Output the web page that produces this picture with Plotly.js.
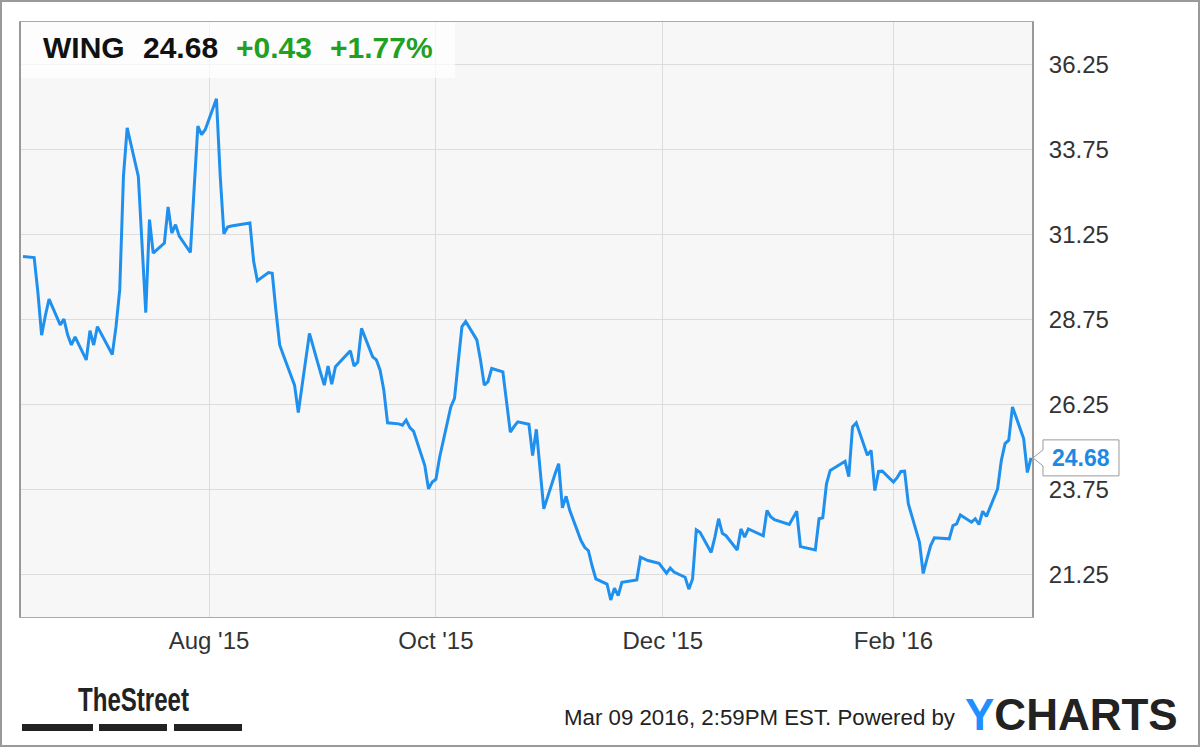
<!DOCTYPE html>
<html><head><meta charset="utf-8">
<script src="https://cdn.plot.ly/plotly-3.0.1.min.js"></script>
<style>html,body{margin:0;padding:0;background:#fff}#chart{width:1200px;height:747px}</style>
</head><body><div id="chart"></div>
<script>
const ticker = "WING";
const lastPrice = 24.68;
const change = "+0.43";
const changePct = "+1.77%";
const stamp = "Mar 09 2016, 2:59PM EST. Powered by";

const dates = [
"2015-06-12","2015-06-15","2015-06-16","2015-06-17","2015-06-18","2015-06-19",
"2015-06-22","2015-06-23","2015-06-24","2015-06-25","2015-06-26",
"2015-06-29","2015-06-30","2015-07-01","2015-07-02",
"2015-07-06","2015-07-07","2015-07-08","2015-07-09","2015-07-10",
"2015-07-13","2015-07-14","2015-07-15","2015-07-16","2015-07-17",
"2015-07-20","2015-07-21","2015-07-22","2015-07-23","2015-07-24",
"2015-07-27","2015-07-28","2015-07-29","2015-07-30","2015-07-31",
"2015-08-03","2015-08-04","2015-08-05","2015-08-06","2015-08-07",
"2015-08-10","2015-08-11","2015-08-12","2015-08-13","2015-08-14",
"2015-08-17","2015-08-18","2015-08-19","2015-08-20","2015-08-21",
"2015-08-24","2015-08-25","2015-08-26","2015-08-27","2015-08-28",
"2015-08-31","2015-09-01","2015-09-02","2015-09-03","2015-09-04",
"2015-09-08","2015-09-09","2015-09-10","2015-09-11",
"2015-09-14","2015-09-15","2015-09-16","2015-09-17","2015-09-18",
"2015-09-21","2015-09-22","2015-09-23","2015-09-24","2015-09-25",
"2015-09-28","2015-09-29","2015-09-30","2015-10-01","2015-10-02",
"2015-10-05","2015-10-06","2015-10-07","2015-10-08","2015-10-09",
"2015-10-12","2015-10-13","2015-10-14","2015-10-15","2015-10-16",
"2015-10-19","2015-10-20","2015-10-21","2015-10-22","2015-10-23",
"2015-10-26","2015-10-27","2015-10-28","2015-10-29","2015-10-30",
"2015-11-02","2015-11-03","2015-11-04","2015-11-05","2015-11-06",
"2015-11-09","2015-11-10","2015-11-11","2015-11-12","2015-11-13",
"2015-11-16","2015-11-17","2015-11-18","2015-11-19","2015-11-20",
"2015-11-23","2015-11-24","2015-11-25","2015-11-27",
"2015-11-30","2015-12-01","2015-12-02","2015-12-03","2015-12-04",
"2015-12-07","2015-12-08","2015-12-09","2015-12-10","2015-12-11",
"2015-12-14","2015-12-15","2015-12-16","2015-12-17","2015-12-18",
"2015-12-21","2015-12-22","2015-12-23","2015-12-24",
"2015-12-28","2015-12-29","2015-12-30","2015-12-31",
"2016-01-04","2016-01-05","2016-01-06","2016-01-07","2016-01-08",
"2016-01-11","2016-01-12","2016-01-13","2016-01-14","2016-01-15",
"2016-01-19","2016-01-20","2016-01-21","2016-01-22",
"2016-01-25","2016-01-26","2016-01-27","2016-01-28","2016-01-29",
"2016-02-01","2016-02-02","2016-02-03","2016-02-04","2016-02-05",
"2016-02-08","2016-02-09","2016-02-10","2016-02-11","2016-02-12",
"2016-02-16","2016-02-17","2016-02-18","2016-02-19",
"2016-02-22","2016-02-23","2016-02-24","2016-02-25","2016-02-26",
"2016-02-29","2016-03-01","2016-03-02","2016-03-03","2016-03-04",
"2016-03-07","2016-03-08","2016-03-09"
];

const closes = [
30.60,30.57,29.55,28.29,28.86,29.35,
28.59,28.76,28.30,28.00,28.24,
27.56,28.42,28.00,28.54,
27.72,28.54,29.62,32.96,34.39,
32.96,31.00,28.95,31.69,30.70,
31.00,32.06,31.29,31.54,31.20,
30.72,32.60,34.44,34.19,34.34,
35.24,33.00,31.27,31.47,31.50,
31.55,31.57,31.59,30.46,29.89,
30.13,30.11,29.00,28.00,27.70,
26.82,26.01,26.77,27.55,28.34,
27.18,26.82,27.38,26.85,27.36,
27.83,27.38,27.50,28.49,
27.65,27.56,27.26,26.67,25.71,
25.68,25.64,25.79,25.57,25.46,
24.46,23.77,23.97,24.05,24.70,
26.18,26.43,27.50,28.54,28.69,
28.15,27.55,26.82,26.92,27.31,
27.21,26.40,25.44,25.60,25.74,
25.67,24.75,25.52,24.35,23.18,
24.20,24.51,23.21,23.55,23.13,
22.25,22.05,21.95,21.50,21.12,
20.97,20.50,20.85,20.63,21.02,
21.08,21.09,21.76,21.66,
21.58,21.43,21.29,21.44,21.32,
21.17,20.82,21.12,22.56,22.49,
21.90,22.35,22.89,22.46,22.39,
21.97,22.59,22.35,22.59,
22.39,23.13,22.95,22.86,
22.72,22.90,23.11,22.07,22.04,
21.97,22.89,22.92,23.92,24.31,
24.58,24.13,25.59,25.71,
24.76,24.90,23.72,24.28,24.29,
23.97,24.10,24.28,24.29,23.33,
22.20,21.28,21.70,22.10,22.33,
22.30,22.69,22.74,23.00,
22.79,22.89,22.72,23.11,22.96,
23.77,24.60,25.10,25.20,26.18,
25.25,24.25,24.68
];

const xTickVals = ["2015-08-01","2015-10-01","2015-12-01","2016-02-01"];
const xTickText = ["Aug '15","Oct '15","Dec '15","Feb '16"];
const yTickVals = [21.25,23.75,26.25,28.75,31.25,33.75,36.25];

// ---- geometry / styling ----
const W=1200,H=747,L=21,R=1032,T=22,B=617;
const YMIN=20, YMAX=37.5;
const px = x => (x-L)/(R-L);
const py = y => (B-y)/(B-T);
const FONT = "'Liberation Sans', Arial, Helvetica, sans-serif";
const LINE = "#2090ee";
const GREEN = "#22a022";

const last = closes[closes.length-1];
const yv = T + (YMAX-last)/(YMAX-YMIN)*(B-T);
function P(x,y){ return px(x).toFixed(5)+","+py(y).toFixed(5); }
const callout = "M"+P(R+1,yv)+" L"+P(R+11,yv-8)+" L"+P(R+11,yv-18)+" L"+P(R+87,yv-18)+
  " L"+P(R+87,yv+18)+" L"+P(R+11,yv+18)+" L"+P(R+11,yv+8)+" Z";

const shapes = [
  {type:"rect",xref:"paper",yref:"paper",x0:px(1),x1:px(1199),y0:py(746),y1:py(1),
   line:{color:"#9a9a9a",width:2},fillcolor:"rgba(0,0,0,0)",layer:"above"},
  {type:"rect",xref:"paper",yref:"paper",x0:px(L),x1:px(455),y0:py(78),y1:py(T),
   line:{width:0},fillcolor:"rgba(255,255,255,0.72)",layer:"above"},
  {type:"path",xref:"paper",yref:"paper",path:callout,fillcolor:"#ffffff",
   line:{color:"#9a9a9a",width:1},layer:"above"},
  {type:"rect",xref:"paper",yref:"paper",x0:px(22),x1:px(93),y0:py(731),y1:py(724),fillcolor:"#222",line:{width:0}},
  {type:"rect",xref:"paper",yref:"paper",x0:px(99),x1:px(167),y0:py(731),y1:py(724),fillcolor:"#222",line:{width:0}},
  {type:"rect",xref:"paper",yref:"paper",x0:px(174),x1:px(242),y0:py(731),y1:py(724),fillcolor:"#222",line:{width:0}}
];

function hdr(x,text,color){
  return {xref:"paper",yref:"paper",x:px(x),y:py(47.5),xanchor:"left",yanchor:"middle",
    text:"<b>"+text+"</b>",showarrow:false,font:{family:FONT,size:30,color:color}};
}

const annotations = [
  hdr(41,ticker,"#111"),
  hdr(141,lastPrice.toFixed(2),"#111"),
  hdr(234,change,GREEN),
  hdr(328,changePct,GREEN),
  {xref:"paper",yref:"y",x:px(R+49),y:last,xanchor:"center",yanchor:"middle",
   text:"<b>"+last.toFixed(2)+"</b>",showarrow:false,font:{family:FONT,size:23,color:"#1e88e5"}},
  {xref:"paper",yref:"paper",x:px(562),y:py(717),xanchor:"left",yanchor:"middle",align:"left",
   text:stamp,showarrow:false,font:{family:FONT,size:22,color:"#222"}},
  {xref:"paper",yref:"paper",x:px(963),y:py(714),xanchor:"left",yanchor:"middle",
   text:"<b><span style='color:#1e90ff'>Y</span>CHARTS</b>",showarrow:false,font:{family:FONT,size:44,color:"#222"}},
  {xref:"paper",yref:"paper",x:px(76),y:py(699),xanchor:"left",yanchor:"middle",align:"left",
   text:"<b>TheStreet</b>",showarrow:false,font:{family:FONT,size:33,color:"#222"}}
];

const trace = {x:dates,y:closes,type:"scatter",mode:"lines",
  line:{color:LINE,width:3},hoverinfo:"skip"};

const layout = {
  width:W,height:H,margin:{l:L,r:W-R,t:T,b:H-B,pad:0},
  paper_bgcolor:"#ffffff",plot_bgcolor:"#f7f7f7",showlegend:false,
  font:{family:FONT},
  xaxis:{type:"date",range:["2015-06-11 11:00","2016-03-09 06:00"],
    tickmode:"array",tickvals:xTickVals,ticktext:xTickText,
    showgrid:true,gridcolor:"#dcdcdc",gridwidth:1,zeroline:false,
    showline:true,linecolor:"#aaaaaa",linewidth:1,mirror:true,ticks:"",
    ticklabelstandoff:2,tickfont:{family:FONT,size:24,color:"#333"},fixedrange:true},
  yaxis:{side:"right",range:[YMIN,YMAX],tickmode:"array",tickvals:yTickVals,
    ticktext:yTickVals.map(v=>v.toFixed(2)),
    showgrid:true,gridcolor:"#dcdcdc",gridwidth:1,zeroline:false,
    showline:true,linecolor:"#999999",linewidth:2,mirror:true,ticks:"",
    ticklabelstandoff:10,tickfont:{family:FONT,size:24,color:"#333"},fixedrange:true},
  shapes:shapes,annotations:annotations
};

function condense(idx,len){
  const t = document.querySelector('.annotation[data-index="'+idx+'"] text.annotation-text');
  if(t){ t.setAttribute('textLength',len); t.setAttribute('lengthAdjust','spacingAndGlyphs'); }
}

Plotly.newPlot("chart",[trace],layout,{staticPlot:true,displayModeBar:false}).then(function(){
  condense(5,391);
  condense(7,111);
});
</script>
</body></html>
